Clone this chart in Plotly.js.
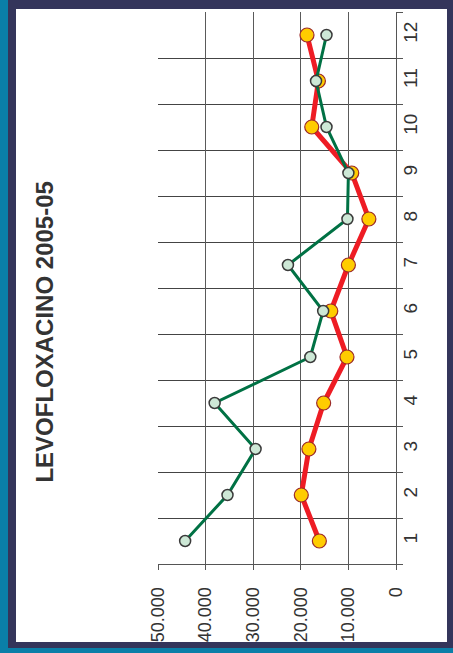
<!DOCTYPE html>
<html>
<head>
<meta charset="utf-8">
<script src="https://cdn.plot.ly/plotly-3.0.1.min.js"></script>
<style>
  html, body { margin: 0; padding: 0; }
  body { width: 453px; height: 653px; background: #0a7fa8; position: relative; overflow: hidden; }
  #frame { position: absolute; left: 8px; top: 0; width: 445px; height: 648px; background: #34355b; }
  #panel { position: absolute; left: 16px; top: 9px; width: 431px; height: 633px; background: #ffffff; }
  #chart { position: absolute; left: 0; top: 0; width: 431px; height: 633px; }
</style>
</head>
<body>
<div id="frame"></div>
<div id="panel"><div id="chart"></div></div>
<script>
// Months of the year (category axis)
const months = [1, 2, 3, 4, 5, 6, 7, 8, 9, 10, 11, 12];
const monthLabels = ['1', '2', '3', '4', '5', '6', '7', '8', '9', '10', '11', '12'];

// Monthly values for the two series
const seriesRed = [16100, 19900, 18300, 15200, 10300, 13700, 10000, 5700, 9300, 17700, 16300, 18700];
const seriesGreen = [44300, 35400, 29500, 38100, 18000, 15300, 22700, 10200, 10000, 14600, 16800, 14600];

// Value axis ticks
const valueTicks = [0, 10000, 20000, 30000, 40000, 50000];
const valueTickLabels = ['0', '10.000', '20.000', '30.000', '40.000', '50.000'];

const FONT = 'Liberation Sans, Arial, Helvetica, sans-serif';

const traces = [
  {
    x: seriesRed, y: months, type: 'scatter', mode: 'lines+markers',
    line: { color: '#ee1c24', width: 5 },
    marker: { size: 14, color: '#ffcc00', line: { color: '#9b2a2a', width: 1.2 } },
    hoverinfo: 'skip', showlegend: false
  },
  {
    x: seriesGreen, y: months, type: 'scatter', mode: 'lines+markers',
    line: { color: '#007144', width: 3 },
    marker: { size: 11, color: '#cde8d6', line: { color: '#3a3a3a', width: 1.5 } },
    hoverinfo: 'skip', showlegend: false
  }
];

const layout = {
  width: 431, height: 633,
  margin: { l: 142, r: 51, t: 3, b: 78, pad: 0 },
  paper_bgcolor: '#ffffff', plot_bgcolor: '#ffffff',
  font: { family: FONT, color: '#333333', size: 18 },
  xaxis: {
    range: [50000, 0], autorange: false,
    tickvals: valueTicks, ticktext: valueTickLabels,
    tickangle: -90, tickfont: { family: FONT, size: 18, color: '#333333' },
    ticks: 'outside', ticklen: 5, tickcolor: '#555555', tickwidth: 1,
    ticklabelstandoff: 10,
    showgrid: true, gridcolor: '#5a5a5a', gridwidth: 1,
    showline: true, linecolor: '#555555', linewidth: 1,
    zeroline: false, fixedrange: true
  },
  yaxis: {
    range: [0.5, 12.5], autorange: false, side: 'right',
    tickvals: months, ticktext: monthLabels,
    tickangle: -90, tickfont: { family: FONT, size: 19, color: '#333333' },
    ticks: '', ticklabelstandoff: -3,
    showgrid: false,
    minor: { tick0: 0.5, dtick: 1, showgrid: true, gridcolor: '#444444', gridwidth: 1,
             ticks: 'outside', ticklen: 6, tickcolor: '#555555', tickwidth: 1 },
    showline: true, linecolor: '#555555', linewidth: 1,
    zeroline: false, fixedrange: true
  },
  annotations: [{
    text: 'LEVOFLOXACINO 2005-05',
    xref: 'paper', yref: 'paper', x: -0.475, y: 0.421,
    xanchor: 'center', yanchor: 'middle', textangle: -90, showarrow: false,
    font: { family: FONT, size: 24, color: '#333333', weight: 'bold' }
  }]
};

Plotly.newPlot('chart', traces, layout, { displayModeBar: false, staticPlot: true });
</script>
</body>
</html>
